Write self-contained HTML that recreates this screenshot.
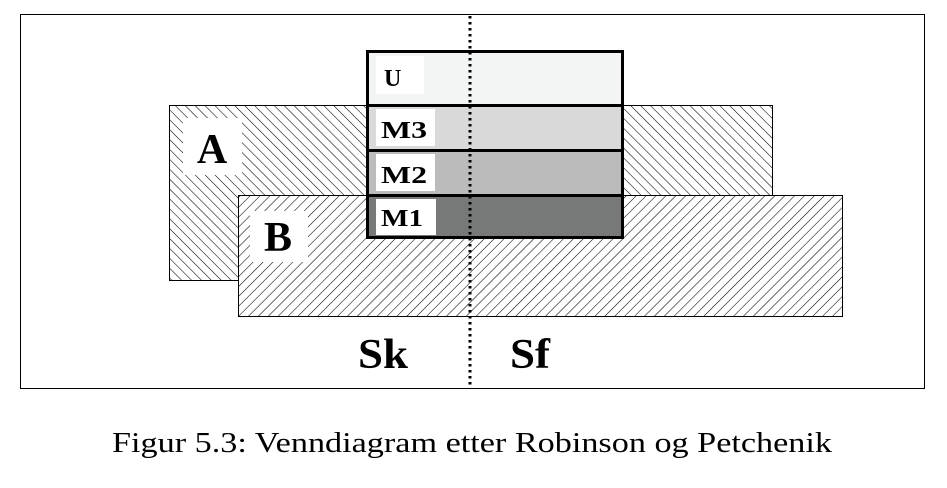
<!DOCTYPE html>
<html><head><meta charset="utf-8"><style>
body{margin:0;background:#fff;width:947px;height:483px;overflow:hidden}
svg text{font-family:"Liberation Serif",serif}
</style></head><body>
<svg width="947" height="483" viewBox="0 0 947 483">
<defs>
<pattern id="hA" patternUnits="userSpaceOnUse" width="7" height="7" patternTransform="rotate(-45)">
<rect width="7" height="7" fill="#fff"/><line x1="0" y1="0" x2="0" y2="7" stroke="#000" stroke-width="1.1"/></pattern>
<pattern id="hB" patternUnits="userSpaceOnUse" width="7" height="7" patternTransform="rotate(45)">
<rect width="7" height="7" fill="#fff"/><line x1="0" y1="0" x2="0" y2="7" stroke="#000" stroke-width="1.1"/></pattern>
</defs>
<rect x="20.5" y="14.5" width="904" height="374" fill="#fff" stroke="#000" stroke-width="1"/>
<g>
<rect x="169.5" y="105.5" width="603" height="175" fill="url(#hA)" stroke="#000"/>
<rect x="183" y="118" width="59" height="57" fill="#fff"/>
<text x="212" y="163" font-size="42" font-weight="bold" text-anchor="middle">A</text>
</g>
<g>
<rect x="238.5" y="195.5" width="604" height="121" fill="url(#hB)" stroke="#000"/>
<rect x="250" y="211" width="58" height="51" fill="#fff"/>
<text x="278" y="251" font-size="42" font-weight="bold" text-anchor="middle">B</text>
</g>
<g stroke="#000" stroke-width="3">
<rect x="367.5" y="51.5" width="255" height="54" fill="#f3f4f4"/>
<rect x="367.5" y="105.5" width="255" height="45" fill="#d9d9d9"/>
<rect x="367.5" y="150.5" width="255" height="45" fill="#bbbbbb"/>
<rect x="367.5" y="195.5" width="255" height="42" fill="#777878"/>
</g>
<g fill="#fff">
<rect x="376" y="56" width="48" height="38"/>
<rect x="376" y="109" width="59" height="37"/>
<rect x="376" y="154" width="59" height="37"/>
<rect x="376" y="199" width="60" height="36"/>
</g>
<g font-size="24" font-weight="bold">
<text x="384" y="86">U</text>
<text x="381" y="138" textLength="46" lengthAdjust="spacingAndGlyphs">M3</text>
<text x="381" y="183" textLength="46" lengthAdjust="spacingAndGlyphs">M2</text>
<text x="381" y="226" textLength="42" lengthAdjust="spacingAndGlyphs">M1</text>
</g>
<line x1="470" y1="16" x2="470" y2="388" stroke="#000" stroke-width="3" stroke-dasharray="2.5 3.5"/>
<text x="358" y="368" font-size="42" font-weight="bold" textLength="50" lengthAdjust="spacingAndGlyphs">Sk</text>
<text x="510" y="368" font-size="42" font-weight="bold" textLength="40" lengthAdjust="spacingAndGlyphs">Sf</text>
<text x="112" y="452" font-size="28" textLength="720" lengthAdjust="spacingAndGlyphs">Figur 5.3: Venndiagram etter Robinson og Petchenik</text>
</svg>
</body></html>
